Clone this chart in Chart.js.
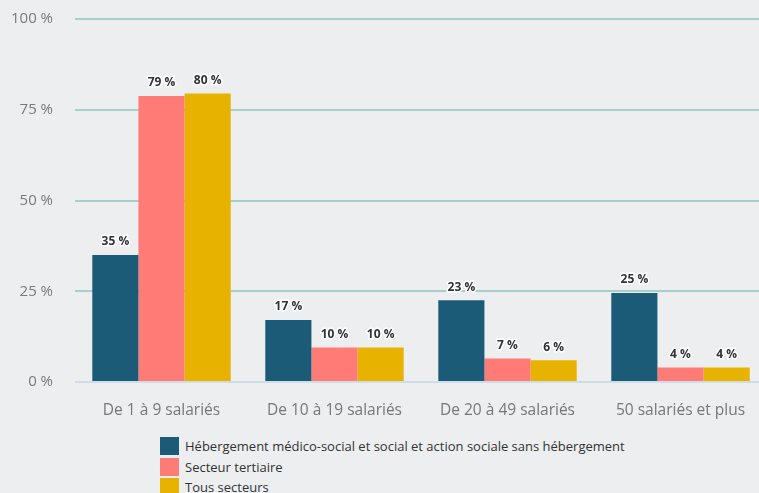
<!DOCTYPE html>
<html lang="fr">
<head>
<meta charset="utf-8">
<script src="https://cdn.jsdelivr.net/npm/chart.js@4/dist/chart.umd.min.js"></script>
<style>
    html, body { margin: 0; padding: 0; background: #edeef0; overflow: hidden; }
    body { width: 759px; height: 493px; position: relative; font-family: 'Open Sans', sans-serif; }
    #wrap { position: absolute; left: 0; top: 0; width: 767px; height: 421px; }
    #legend { position: absolute; left: 160px; top: 436px; margin: 0; padding: 0; list-style: none; }
    #legend li { display: flex; align-items: center; height: 20.5px; font-size: 13px; color: #333; }
    #legend span { display: inline-block; width: 19px; height: 18px; margin-right: 6px; }
</style>
</head>
<body>
<div id="wrap"><canvas id="myChart" width="767" height="421"></canvas></div>
<ul id="legend"></ul>
<script>
const categories = ['De 1 à 9 salariés', 'De 10 à 19 salariés', 'De 20 à 49 salariés', '50 salariés et plus'];
const seriesNames = [
    'Hébergement médico-social et social et action sociale sans hébergement',
    'Secteur tertiaire',
    'Tous secteurs'
];
const hebergement = [35, 17.1, 22.5, 24.5];
const tertiaire = [78.8, 9.5, 6.5, 4];
const tousSecteurs = [79.5, 9.5, 6, 4];
const yTicks = [0, 25, 50, 75, 100];
const colors = ['#1c5b78', '#ff7b75', '#e8b200'];

const canvas = document.querySelector('#myChart').getContext('2d');

// value labels above each bar
const barLabels = {
    id: 'barLabels',
    afterDatasetsDraw(chart) {
        const ctx = chart.ctx;
        ctx.save();
        ctx.font = 'bold 12px "Open Sans"';
        ctx.textAlign = 'center';
        ctx.textBaseline = 'middle';
        ctx.lineJoin = 'round';
        chart.data.datasets.forEach(function(ds, i) {
            chart.getDatasetMeta(i).data.forEach(function(bar, j) {
                const txt = Math.round(ds.data[j]) + ' %';
                ctx.strokeStyle = '#ffffff';
                ctx.lineWidth = 3;
                ctx.strokeText(txt, bar.x, bar.y - 13);
                ctx.fillStyle = '#333333';
                ctx.fillText(txt, bar.x, bar.y - 13);
            });
        });
        ctx.restore();
    }
};

const chart = new Chart(canvas, {
    type: 'bar',
    data: {
        labels: categories,
        datasets: [
            { label: seriesNames[0], data: hebergement, backgroundColor: colors[0] },
            { label: seriesNames[1], data: tertiaire, backgroundColor: colors[1] },
            { label: seriesNames[2], data: tousSecteurs, backgroundColor: colors[2] }
        ]
    },
    options: {
        responsive: false,
        animation: false,
        layout: { padding: { top: 19, left: 0, right: 0, bottom: 0 } },
        datasets: { bar: { categoryPercentage: 0.8, barPercentage: 1 } },
        plugins: {
            legend: { display: false },
            tooltip: { enabled: false }
        },
        scales: {
            x: {
                grid: { display: false },
                border: { display: false },
                ticks: { color: '#777', font: { family: 'Open Sans', size: 15.5 }, padding: 11 },
                afterFit(scale) { scale.height = 39; }
            },
            y: {
                min: 0,
                max: 100,
                afterBuildTicks(scale) { scale.ticks = yTicks.map(v => ({ value: v })); },
                afterFit(scale) {
                    scale.width = 75;
                    scale.paddingTop = 0;
                    scale.paddingBottom = 0;
                },
                border: { display: false },
                grid: {
                    drawTicks: false,
                    lineWidth: 2,
                    color: ctx => ctx.tick && ctx.tick.value === 0 ? '#cfdde9' : '#a7cfcc'
                },
                ticks: {
                    color: '#7a7a7a',
                    font: { family: 'Open Sans', size: 15 },
                    padding: 22,
                    callback: v => v + ' %'
                }
            }
        }
    },
    plugins: [barLabels]
});

const legend = document.querySelector('#legend');
chart.data.datasets.forEach(function(ds) {
    const li = document.createElement('li');
    const box = document.createElement('span');
    box.style.background = ds.backgroundColor;
    li.appendChild(box);
    li.appendChild(document.createTextNode(ds.label));
    legend.appendChild(li);
});
</script>
</body>
</html>
